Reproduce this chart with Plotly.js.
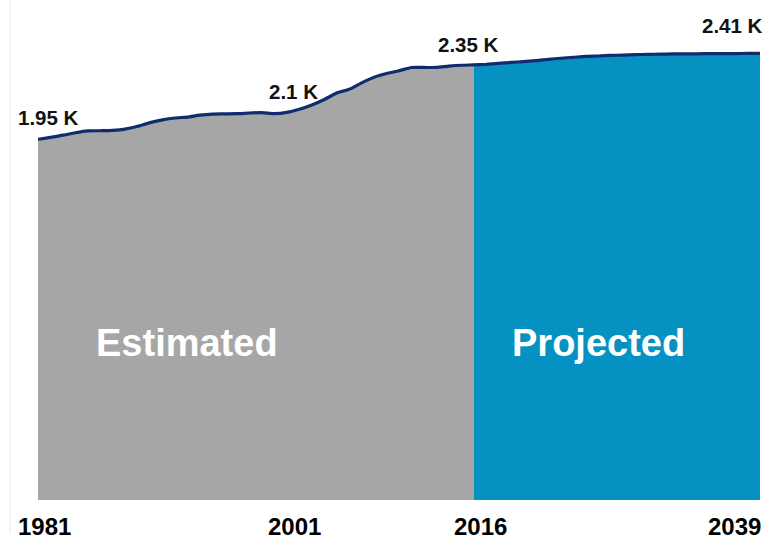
<!DOCTYPE html>
<html>
<head>
<meta charset="utf-8">
<script src="https://cdn.plot.ly/plotly-3.0.1.min.js"></script>
<style>html,body{margin:0;padding:0;background:#fff;}#chart{width:770px;height:541px;}</style>
</head>
<body>
<div id="chart"></div>
<script>
const estYears = [1981,1982,1983,1984,1985,1986,1987,1988,1989,1990,1991,1992,1993,1994,1995,1996,1997,1998,1999,2000,2001,2002,2003,2004,2005,2006,2007,2008,2009,2010,2011,2012,2013,2014,2015,2016];
const estValues = [1.950,1.960,1.972,1.985,1.995,1.996,1.998,2.005,2.020,2.040,2.055,2.065,2.070,2.080,2.086,2.087,2.088,2.092,2.094,2.088,2.095,2.112,2.135,2.165,2.200,2.220,2.255,2.285,2.305,2.320,2.338,2.338,2.338,2.345,2.350,2.352];
const projYears = [2016,2017,2018,2019,2020,2021,2022,2023,2024,2025,2026,2027,2028,2029,2030,2031,2032,2033,2034,2035,2036,2037,2038,2039];
const projValues = [2.352,2.355,2.360,2.365,2.370,2.375,2.382,2.388,2.393,2.398,2.400,2.403,2.405,2.407,2.409,2.410,2.411,2.412,2.412,2.413,2.413,2.413,2.414,2.414];
const labelYears = [1981, 2001, 2016, 2039];
const labelTexts = ['1.95 K', '2.1 K', '2.35 K', '2.41 K'];
const tickYears = [1981, 2001, 2016, 2039];
const tickTexts = ['1981', '2001', '2016', '2039'];
const sectionNames = ['Estimated', 'Projected'];
const sectionYears = [1993.0, 2026.0];
const sectionLevel = 0.85;

const allYears = estYears.concat(projYears.slice(1));
const allValues = estValues.concat(projValues.slice(1));
const valueAt = y => allValues[allYears.indexOf(y)];

const F = 'Liberation Sans, Arial, sans-serif';
const L = 38, R = 10, T = 19, B = 41;
const PW = 770 - L - R, PH = 541 - T - B;

const traces = [
  {x: estYears, y: estValues, type: 'scatter', mode: 'lines', fill: 'tozeroy',
   fillcolor: '#a6a6a6', line: {width: 0, color: '#a6a6a6'}, hoverinfo: 'skip'},
  {x: projYears, y: projValues, type: 'scatter', mode: 'lines', fill: 'tozeroy',
   fillcolor: '#0592c2', line: {width: 0, color: '#0592c2'}, hoverinfo: 'skip'},
  {x: allYears, y: allValues, type: 'scatter', mode: 'lines',
   line: {width: 3.2, color: '#0e2c6e', shape: 'spline', smoothing: 0.6}, hoverinfo: 'skip'}
];

const labelShift = [[10, 22, 'center'], [7, 21, 'center'], [-5, 20, 'center'], [5, 28, 'right']];
const annotations = [];
labelYears.forEach((yr, i) => {
  annotations.push({x: yr, y: valueAt(yr), xref: 'x', yref: 'y', text: '<b>' + labelTexts[i] + '</b>',
    showarrow: false, xanchor: labelShift[i][2], yanchor: 'middle',
    xshift: labelShift[i][0], yshift: labelShift[i][1],
    font: {family: F, size: 20.5, color: '#111'}});
});
const tickShift = [[-21, 'left'], [8, 'center'], [7, 'center'], [2, 'right']];
tickYears.forEach((yr, i) => {
  annotations.push({x: yr, y: -B / PH, xref: 'x', yref: 'paper', text: '<b>' + tickTexts[i] + '</b>',
    showarrow: false, xanchor: tickShift[i][1], yanchor: 'bottom', borderpad: 0,
    xshift: tickShift[i][0], yshift: 0,
    font: {family: F, size: 24, color: '#000'}});
});
sectionNames.forEach((nm, i) => {
  annotations.push({x: sectionYears[i], y: sectionLevel, xref: 'x', yref: 'y', text: '<b>' + nm + '</b>',
    showarrow: false, xanchor: 'center', yanchor: 'middle',
    font: {family: F, size: 38, color: '#ffffff'}});
});

const layout = {
  width: 770, height: 541,
  margin: {l: L, r: R, t: T, b: B, pad: 0},
  paper_bgcolor: '#ffffff', plot_bgcolor: '#ffffff',
  showlegend: false,
  xaxis: {range: [1981, 2039], visible: false, showgrid: false, zeroline: false, fixedrange: true},
  yaxis: {range: [0, 2.6], visible: false, showgrid: false, zeroline: false, fixedrange: true},
  annotations: annotations,
  shapes: [{type: 'line', xref: 'paper', yref: 'paper', x0: (10 - L) / PW, x1: (10 - L) / PW, y0: -33 / PH, y1: (PH + T) / PH,
    line: {color: '#ebebeb', width: 1}}]
};

Plotly.newPlot('chart', traces, layout, {displayModeBar: false, staticPlot: true});
</script>
</body>
</html>
